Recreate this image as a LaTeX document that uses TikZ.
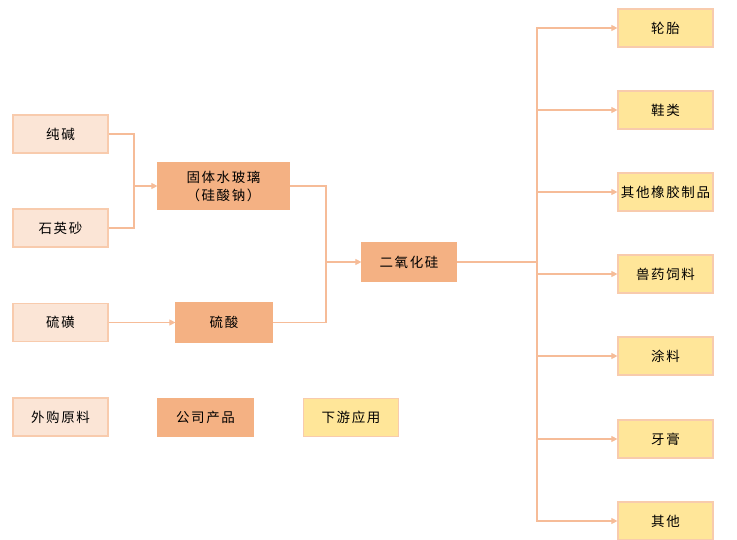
\documentclass[tikz,border=0pt]{standalone}
\usepackage{fontspec}
\newfontfamily\cjk[LetterSpace=12]{Noto Sans CJK SC}
\usetikzlibrary{arrows.meta}
\definecolor{lightfill}{HTML}{FBE5D6}
\definecolor{darkfill}{HTML}{F4B183}
\definecolor{yellowfill}{HTML}{FFE699}
\definecolor{edge}{HTML}{F8CBAD}
\definecolor{wire}{HTML}{F6BC98}
\tikzset{
  box/.style={draw=edge, line width=1.2pt, minimum width=95pt, minimum height=38pt, inner sep=0pt, font=\cjk\fontsize{13.5}{18}\selectfont, text=black, align=center},
  rawbox/.style={box, fill=lightfill},
  prodbox/.style={box, fill=darkfill, draw=darkfill},
  usebox/.style={box, fill=yellowfill},
  wireline/.style={draw=wire, line width=1.1pt},
  arr/.style={wireline, -{Triangle[length=6pt,width=6pt]}},
}
\begin{document}
\begin{tikzpicture}[x=1pt,y=-1pt]
\useasboundingbox (0,0) rectangle (737,539);
% raw materials
\node[rawbox] (chun) at (60.5,134) {纯碱};
\node[rawbox] (shi) at (60.5,228) {石英砂};
\node[rawbox] (liuh) at (60.5,322.5) {硫磺};
% products
\node[prodbox, minimum width=131pt, minimum height=46pt] (glass) at (223.5,186) {固体水玻璃\\（硅酸钠）};
\node[prodbox, minimum width=96pt, minimum height=39pt] (acid) at (224,322.5) {硫酸};
\node[prodbox, minimum width=94pt] (sio) at (409,262) {二氧化硅};
% uses
\node[usebox] (u1) at (665.5,28) {轮胎};
\node[usebox] (u2) at (665.5,110) {鞋类};
\node[usebox] (u3) at (665.5,192) {其他橡胶制品};
\node[usebox] (u4) at (665.5,274) {兽药饲料};
\node[usebox] (u5) at (665.5,356) {涂料};
\node[usebox] (u6) at (665.5,439) {牙膏};
\node[usebox] (u7) at (665.5,521) {其他};
% legend
\node[rawbox] (l1) at (60.5,417) {外购原料};
\node[prodbox] (l2) at (205.5,417.5) {公司产品};
\node[usebox] (l3) at (351,417.5) {下游应用};
% coordinates
\coordinate (j1) at (134,186);
\coordinate (j2) at (326,262);
\coordinate (j3) at (537,262);
% connectors
\draw[wireline] (chun.east) -| (j1);
\draw[wireline] (shi.east) -| (j1);
\draw[arr] (j1) -- (glass.west);
\draw[arr] (liuh.east) -- (acid.west);
\draw[wireline] (glass.east) -| (j2);
\draw[wireline] (acid.east) -| (j2);
\draw[arr] (j2) -- (sio.west);
\draw[wireline] (sio.east) -- (j3);
\foreach \u in {u1,u2,u3,u4,u5,u6,u7}{
  \draw[arr] (j3) |- (\u.west);
}
\end{tikzpicture}
\end{document}
